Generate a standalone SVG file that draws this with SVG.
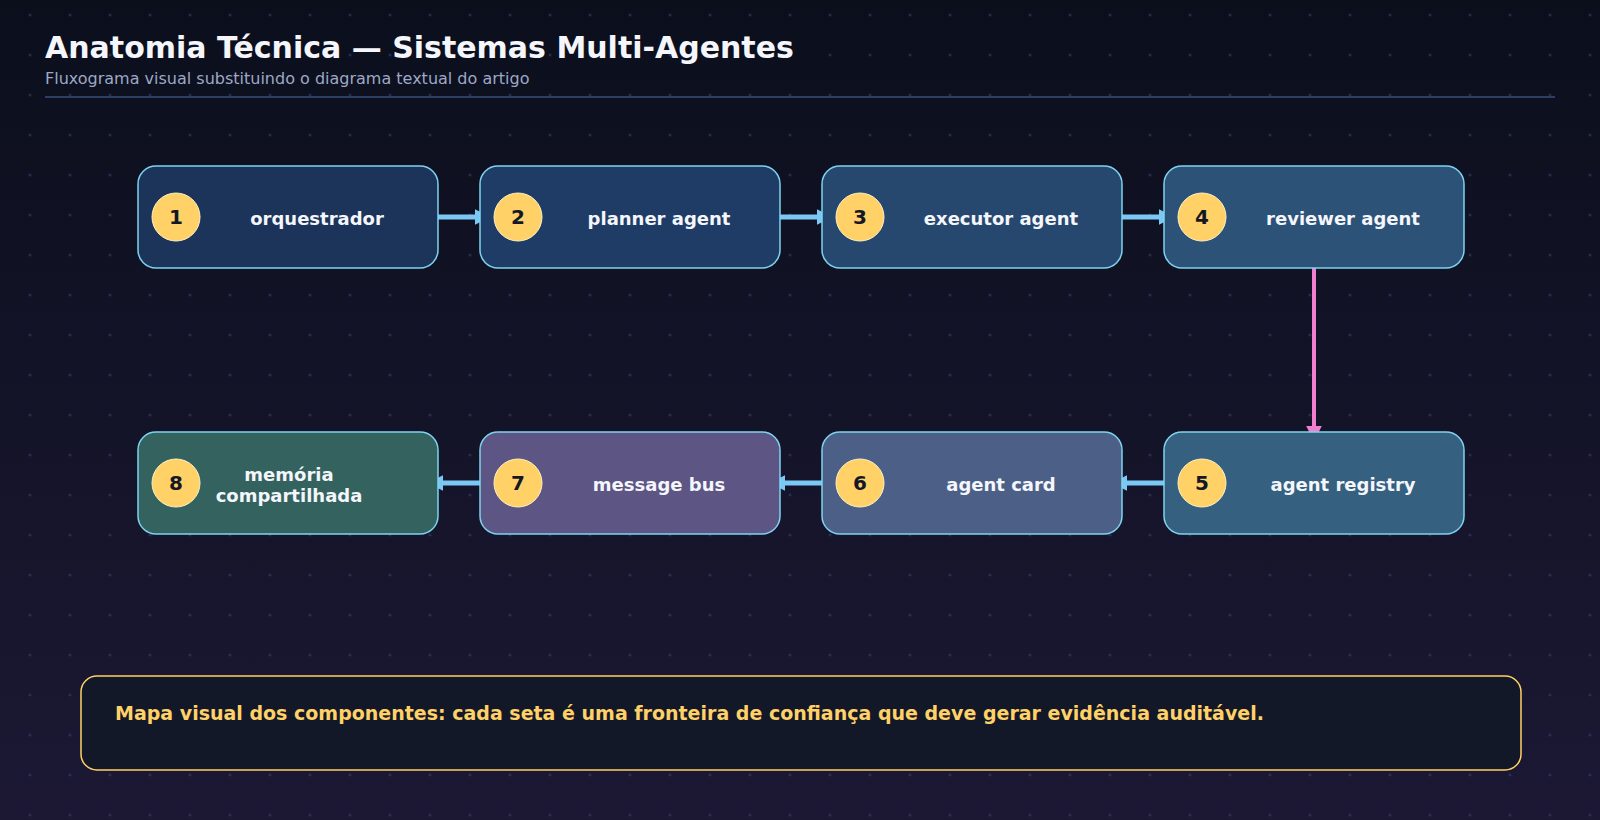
<svg xmlns="http://www.w3.org/2000/svg" width="1600" height="820" viewBox="0 0 1600 820">
<defs>
<linearGradient id="bg" x1="0" y1="0" x2="0" y2="1"><stop offset="0" stop-color="#0b0f1c"/><stop offset="1" stop-color="#1c1834"/></linearGradient>
<pattern id="dots" x="0" y="0" width="40" height="40" patternUnits="userSpaceOnUse"><path d="M28.5 15h3M30 13.5v3" stroke="#2c3560" stroke-width="1"/></pattern>
<marker id="ab" viewBox="0 0 10 10" refX="9" refY="5" markerWidth="3.2" markerHeight="3.2" orient="auto"><path d="M0 0L10 5L0 10z" fill="#7cc8f5"/></marker>
<marker id="ap" viewBox="0 0 10 10" refX="9" refY="5" markerWidth="4" markerHeight="4" orient="auto"><path d="M0 0L10 5L0 10z" fill="#f07fcf"/></marker>
</defs>
<style>
.box{stroke:#7dd3f0;stroke-width:1.5}
.num{fill:#ffd166;stroke:#fff1c0;stroke-width:1}
.nt{font:bold 20px "DejaVu Sans",sans-serif;fill:#141826;text-anchor:middle}
.lb{font:bold 18px "DejaVu Sans",sans-serif;fill:#f4f6fb;text-anchor:middle}
.c{stroke:#7cc8f5;stroke-width:5;fill:none;marker-end:url(#ab)}
</style>
<rect width="1600" height="820" fill="url(#bg)"/>
<rect width="1600" height="820" fill="url(#dots)"/>
<text x="45" y="58" font-family="DejaVu Sans,sans-serif" font-weight="bold" font-size="30" fill="#f4f6fb">Anatomia Técnica — Sistemas Multi-Agentes</text>
<text x="45" y="84" font-family="DejaVu Sans,sans-serif" font-size="16" fill="#9ea8c6">Fluxograma visual substituindo o diagrama textual do artigo</text>
<line x1="45" y1="97" x2="1555" y2="97" stroke="#2e3d66" stroke-width="2"/>
<g id="connectors">
<line class="c" x1="434" y1="217" x2="489" y2="217"/>
<line class="c" x1="776" y1="217" x2="831" y2="217"/>
<line class="c" x1="1118" y1="217" x2="1173" y2="217"/>
<line x1="1314" y1="266" x2="1314" y2="440" stroke="#f07fcf" stroke-width="4" marker-end="url(#ap)"/>
<line class="c" x1="1168" y1="483" x2="1113" y2="483"/>
<line class="c" x1="826" y1="483" x2="771" y2="483"/>
<line class="c" x1="484" y1="483" x2="429" y2="483"/>
</g>
<g id="n1"><rect class="box" x="138" y="166" width="300" height="102" rx="18" fill="#1c335a"/><circle class="num" cx="176" cy="217" r="24"/><text class="nt" x="176" y="224">1</text><text class="lb" x="317" y="225">orquestrador</text></g>
<g id="n2"><rect class="box" x="480" y="166" width="300" height="102" rx="18" fill="#1f3c66"/><circle class="num" cx="518" cy="217" r="24"/><text class="nt" x="518" y="224">2</text><text class="lb" x="659" y="225">planner agent</text></g>
<g id="n3"><rect class="box" x="822" y="166" width="300" height="102" rx="18" fill="#26486f"/><circle class="num" cx="860" cy="217" r="24"/><text class="nt" x="860" y="224">3</text><text class="lb" x="1001" y="225">executor agent</text></g>
<g id="n4"><rect class="box" x="1164" y="166" width="300" height="102" rx="18" fill="#2c5278"/><circle class="num" cx="1202" cy="217" r="24"/><text class="nt" x="1202" y="224">4</text><text class="lb" x="1343" y="225">reviewer agent</text></g>
<g id="n5"><rect class="box" x="1164" y="432" width="300" height="102" rx="18" fill="#36607f"/><circle class="num" cx="1202" cy="483" r="24"/><text class="nt" x="1202" y="490">5</text><text class="lb" x="1343" y="491">agent registry</text></g>
<g id="n6"><rect class="box" x="822" y="432" width="300" height="102" rx="18" fill="#4c6087"/><circle class="num" cx="860" cy="483" r="24"/><text class="nt" x="860" y="490">6</text><text class="lb" x="1001" y="491">agent card</text></g>
<g id="n7"><rect class="box" x="480" y="432" width="300" height="102" rx="18" fill="#5d5583"/><circle class="num" cx="518" cy="483" r="24"/><text class="nt" x="518" y="490">7</text><text class="lb" x="659" y="491">message bus</text></g>
<g id="n8"><rect class="box" x="138" y="432" width="300" height="102" rx="18" fill="#33625f"/><circle class="num" cx="176" cy="483" r="24"/><text class="nt" x="176" y="490">8</text><text class="lb" x="289" y="481">memória</text><text class="lb" x="289" y="502">compartilhada</text></g>
<g id="note"><rect x="81" y="676" width="1440" height="94" rx="16" fill="#121828" stroke="#ffd166" stroke-width="1.5"/><text x="115" y="720" font-family="DejaVu Sans,sans-serif" font-weight="bold" font-size="19" fill="#ffd166">Mapa visual dos componentes: cada seta é uma fronteira de confiança que deve gerar evidência auditável.</text></g>
</svg>
